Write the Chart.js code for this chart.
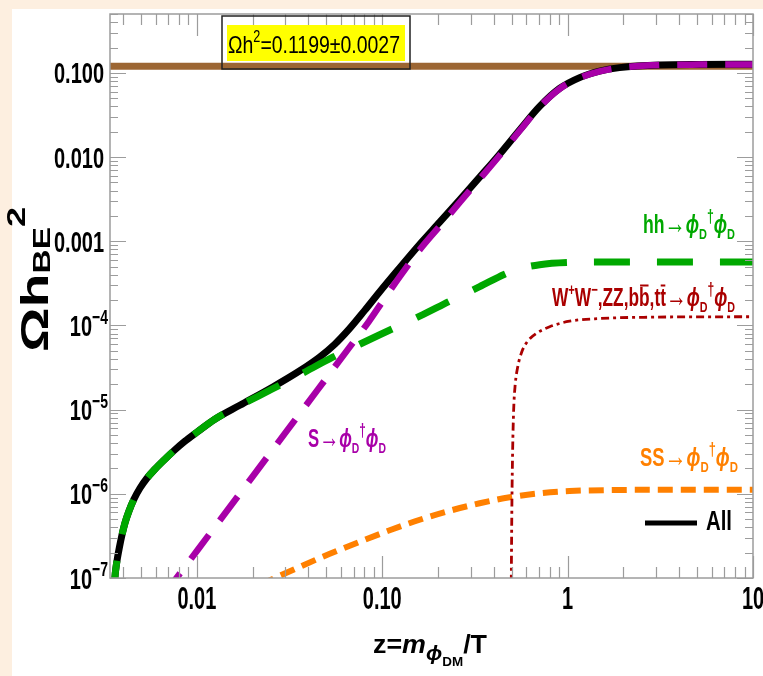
<!DOCTYPE html>
<html><head><meta charset="utf-8">
<script src="https://cdn.jsdelivr.net/npm/chart.js@4"></script>
<style>html,body{margin:0;padding:0;background:#fdefe0;}canvas{display:block}</style>
</head><body>
<canvas id="c" width="763" height="676"></canvas>
<script>
// ---------- data ----------
const xMin = 0.0034, xMax = 10, yMin = 1e-7, yMax = 0.5;
const relicValue = 0.1199;

const allZ = [0.00358, 0.003614, 0.003659, 0.003728, 0.003822, 0.003942, 0.004091, 0.0043, 0.004575, 0.004929, 0.005377, 0.005936, 0.006637, 0.007516, 0.008615, 0.01, 0.0125, 0.01705, 0.02569, 0.03592, 0.04602, 0.05546, 0.06679, 0.08045, 0.09694, 0.1243, 0.1593, 0.2041, 0.2617, 0.3354, 0.4299, 0.551, 0.7066, 0.9055, 1.161, 1.487, 1.906, 3.133, 5.148, 10];
const allY = [6e-8, 1.0e-7, 1.305e-7, 1.715e-7, 2.317e-7, 3.218e-7, 4.468e-7, 6.2e-7, 8.614e-7, 1.163e-6, 1.53e-6, 1.957e-6, 2.504e-6, 3.247e-6, 4.21e-6, 5.385e-6, 7.686e-6, 1.127e-5, 1.86e-5, 2.896e-5, 4.224e-5, 5.98e-5, 9.21e-5, 1.508e-4, 2.515e-4, 4.848e-4, 9.22e-4, 1.683e-3, 3.098e-3, 5.765e-3, 1.082e-2, 2.098e-2, 3.99e-2, 6.527e-2, 8.77e-2, 0.1047, 0.1153, 0.1242, 0.1258, 0.1262];

const hhZ = [0.00358, 0.003614, 0.003659, 0.003728, 0.003822, 0.003942, 0.004091, 0.0043, 0.004575, 0.004929, 0.005377, 0.005936, 0.006637, 0.007516, 0.008615, 0.01, 0.0125, 0.01705, 0.02569, 0.03592, 0.05409, 0.07561, 0.09694, 0.1593, 0.2312, 0.3354, 0.4575, 0.551, 0.7066, 1.025, 1.906, 10];
const hhY = [6e-8, 1.0e-7, 1.305e-7, 1.715e-7, 2.317e-7, 3.218e-7, 4.468e-7, 6.2e-7, 8.614e-7, 1.163e-6, 1.53e-6, 1.957e-6, 2.504e-6, 3.247e-6, 4.21e-6, 5.385e-6, 7.686e-6, 1.12e-5, 1.77e-5, 2.597e-5, 4.19e-5, 5.98e-5, 7.755e-5, 1.287e-4, 1.939e-4, 2.884e-4, 4.06e-4, 4.718e-4, 5.263e-4, 5.59e-4, 5.683e-4, 5.683e-4];

const sZ = [0.0065, 0.007772, 0.012, 0.02, 0.03, 0.045, 0.065, 0.085, 0.09694, 0.1243, 0.1593, 0.2041, 0.2617, 0.3354, 0.4299, 0.551, 0.7066, 0.9055, 1.161, 1.487, 1.906, 3.133, 5.148, 10];
const sY = [5.9e-8, 1.0e-7, 3.58e-7, 1.607e-6, 5.29e-6, 1.74e-5, 5.13e-5, 1.128e-4, 1.72e-4, 3.8e-4, 7.93e-4, 1.51e-3, 2.89e-3, 5.48e-3, 1.044e-2, 2.05e-2, 3.94e-2, 6.47e-2, 8.71e-2, 0.1041, 0.1147, 0.1236, 0.1253, 0.1257];

const vvZ = [0.4952, 0.4977, 0.5008, 0.5052, 0.5115, 0.5211, 0.5377, 0.565, 0.6086, 0.6806, 0.7999, 1.025, 1.487, 2.767, 10];
const vvY = [3.1e-8, 1.62e-7, 8.38e-7, 3.29e-6, 9.83e-6, 1.948e-5, 3.188e-5, 4.804e-5, 6.494e-5, 8.08e-5, 9.65e-5, 1.122e-4, 1.208e-4, 1.252e-4, 1.269e-4];

const ssZ = [0.02185, 0.02634, 0.03592, 0.05212, 0.07561, 0.1097, 0.1593, 0.2312, 0.3354, 0.4869, 0.7066, 1.025, 1.684, 4.017, 10];
const ssY = [8.3e-8, 1.0e-7, 1.359e-7, 1.94e-7, 2.694e-7, 3.688e-7, 4.916e-7, 6.288e-7, 7.72e-7, 9.1e-7, 1.015e-6, 1.078e-6, 1.108e-6, 1.117e-6, 1.117e-6];

const xTickVals = [0.01, 0.1, 1, 10];
const xTickText = ['0.01', '0.10', '1', '10'];
const yTickVals = [0.1, 0.01, 0.001, 1e-4, 1e-5, 1e-6, 1e-7];
const yTickMain = ['0.100', '0.010', '0.001', '10', '10', '10', '10'];
const yTickExp  = ['', '', '', '\u22124', '\u22125', '\u22126', '\u22127'];

// ---------- helpers ----------
const pts = (xs, ys) => xs.map((x, i) => ({x, y: ys[i]}));
const FAM = '"Liberation Sans", Arial, "DejaVu Sans", sans-serif';

function drawRich(ctx, parts, o) {
  ctx.save();
  ctx.translate(o.x, o.y);
  if (o.rotate) ctx.rotate(o.rotate);
  const fontFor = p => `${p.italic ? 'italic ' : ''}${o.weight || 'bold'} ${o.size * (p.scale || 1)}px ${FAM}`;
  let w = 0;
  parts.forEach(p => { ctx.font = fontFor(p); p._w = ctx.measureText(p.t).width; w += p._w; });
  const sx = o.width ? o.width / w : (o.sx || 1);
  ctx.scale(sx, o.sy || 1);
  let cx = o.align === 'center' ? -w / 2 : (o.align === 'right' ? -w : 0);
  ctx.fillStyle = o.color || '#000';
  ctx.textBaseline = 'alphabetic';
  parts.forEach(p => {
    ctx.font = fontFor(p);
    const dy = (p.dy || 0) * o.size;
    ctx.fillText(p.t, cx, dy);
    if (p.bar) {
      ctx.fillRect(cx + p._w * 0.1, dy - o.size * 0.86, p._w * 0.8, o.size * 0.08);
    }
    cx += p._w;
  });
  ctx.restore();
}

const PHI = '\u03D5';
const ARROW = {t: '\u2192', scale: 1.2};
const phiD = [{t: PHI, italic: true}, {t: 'D', scale: 0.62, dy: 0.22}, {t: '\u2020', scale: 0.7, dy: -0.45}, {t: PHI, italic: true}, {t: 'D', scale: 0.62, dy: 0.22}];

const decor = {
  id: 'decor',
  beforeDraw(chart) {
    const ctx = chart.ctx;
    ctx.save();
    ctx.fillStyle = '#fdefe0';
    ctx.fillRect(0, 0, chart.width, chart.height);
    ctx.fillStyle = '#ffffff';
    ctx.fillRect(12, 9, chart.width - 12, chart.height - 9);
    ctx.restore();
  },
  afterDatasetsDraw(chart) {
    const ctx = chart.ctx, a = chart.chartArea;
    const xs = chart.scales.x, ys = chart.scales.y;
    ctx.save();
    // frame
    ctx.strokeStyle = '#9c9c9c';
    ctx.lineWidth = 1.5;
    ctx.strokeRect(a.left, a.top, a.right - a.left, a.bottom - a.top);
    // ticks (inward, on all four sides)
    ctx.lineWidth = 1.2;
    ctx.beginPath();
    for (let k = Math.floor(Math.log10(xMin)); k <= Math.ceil(Math.log10(xMax)); k++) {
      for (let m = 1; m <= 9; m++) {
        const v = m * Math.pow(10, k);
        if (v < xMin * 0.999 || v > xMax * 1.001) continue;
        const px = Math.round(xs.getPixelForValue(v)) + 0.5;
        const len = m === 1 ? 22 : 11;
        ctx.moveTo(px, a.bottom); ctx.lineTo(px, a.bottom - len);
        ctx.moveTo(px, a.top); ctx.lineTo(px, a.top + len);
      }
    }
    for (let k = Math.floor(Math.log10(yMin)); k <= Math.ceil(Math.log10(yMax)); k++) {
      for (let m = 1; m <= 9; m++) {
        const v = m * Math.pow(10, k);
        if (v < yMin * 0.999 || v > yMax * 1.001) continue;
        const py = Math.round(ys.getPixelForValue(v)) + 0.5;
        const len = m === 1 ? 16 : 8;
        ctx.moveTo(a.left, py); ctx.lineTo(a.left + len, py);
        ctx.moveTo(a.right, py); ctx.lineTo(a.right - len, py);
      }
    }
    ctx.stroke();

    // tick labels
    const TS = 25, TSX = 0.8, TSY = 1.18, cap = 0.716 * TS * TSY;
    xTickVals.forEach((v, i) => {
      drawRich(ctx, [{t: xTickText[i]}], {x: xs.getPixelForValue(v), y: 588 + cap, size: TS, sx: TSX, sy: 1.22, align: 'center'});
    });
    yTickVals.forEach((v, i) => {
      const py = ys.getPixelForValue(v);
      if (yTickExp[i]) {
        drawRich(ctx, [{t: yTickMain[i]}, {t: yTickExp[i], scale: 0.7, dy: -0.42}], {x: 108, y: py + cap / 2, size: TS, sx: TSX, sy: TSY, align: 'right'});
      } else {
        drawRich(ctx, [{t: yTickMain[i]}], {x: 104, y: py + cap / 2, size: TS, sx: TSX, sy: TSY, align: 'right'});
      }
    });

    // axis titles
    drawRich(ctx, [{t: 'z='}, {t: 'm', italic: true}, {t: PHI, italic: true, scale: 0.8, dy: 0.28}, {t: 'DM', scale: 0.5, dy: 0.5}, {t: '/T'}],
      {x: 373, y: 653, size: 22, width: 114, sy: 1.16});
    drawRich(ctx, [{t: '\u03A9h'}, {t: 'BE', scale: 0.6, dy: 0.05}, {t: '2', scale: 0.65, dy: -0.6}],
      {x: 48, y: 352, size: 34, width: 145, sy: 1.15, rotate: -Math.PI / 2});

    // relic density box
    ctx.fillStyle = '#ffff00';
    ctx.fillRect(227, 25, 178, 36);
    ctx.strokeStyle = '#222';
    ctx.lineWidth = 1.5;
    ctx.strokeRect(222, 16, 188, 53);
    drawRich(ctx, [{t: '\u03A9h'}, {t: '2', scale: 0.65, dy: -0.45}, {t: '=0.1199\u00B10.0027'}],
      {x: 228, y: 53, size: 22, width: 172, sy: 1.12, weight: 'normal'});

    // curve labels
    drawRich(ctx, [{t: 'hh'}, ARROW].concat(phiD), {x: 643, y: 233, size: 20, width: 92, sy: 1.25, color: '#00a800'});
    drawRich(ctx, [{t: 'W'}, {t: '+', scale: 0.65, dy: -0.45}, {t: 'W'}, {t: '\u2212', scale: 0.65, dy: -0.45}, {t: ',ZZ,b'}, {t: 'b', bar: true}, {t: ',t'}, {t: 't', bar: true}, ARROW].concat(phiD),
      {x: 552, y: 306, size: 20, width: 183, sy: 1.25, color: '#aa0000'});
    drawRich(ctx, [{t: 'S'}, ARROW].concat(phiD), {x: 308, y: 447, size: 20, width: 78, sy: 1.25, color: '#a800a8'});
    drawRich(ctx, [{t: 'SS'}, ARROW].concat(phiD), {x: 640, y: 466, size: 20, width: 98, sy: 1.25, color: '#ff8000'});

    // legend "All"
    ctx.strokeStyle = '#000';
    ctx.lineWidth = 5;
    ctx.beginPath(); ctx.moveTo(645, 523); ctx.lineTo(697, 523); ctx.stroke();
    drawRich(ctx, [{t: 'All'}], {x: 706, y: 530, size: 24, width: 26, sy: 1.15});
    ctx.restore();
  }
};

const common = {showLine: true, pointRadius: 0, fill: false, cubicInterpolationMode: 'monotone', clip: 0};

new Chart(document.getElementById('c'), {
  type: 'scatter',
  data: {
    datasets: [
      Object.assign({label: 'S', data: pts(sZ, sY), borderColor: '#a800a8', borderWidth: 6.5, borderDash: [30, 18], order: 1}, common),
      Object.assign({label: 'hh', data: pts(hhZ, hhY), borderColor: '#00a800', borderWidth: 7, borderDash: [36, 27], order: 2}, common),
      Object.assign({label: 'WW', data: pts(vvZ, vvY), borderColor: '#aa0000', borderWidth: 2.8, borderDash: [8, 4, 3, 4], order: 3}, common),
      Object.assign({label: 'SS', data: pts(ssZ, ssY), borderColor: '#ff8000', borderWidth: 6, borderDash: [15, 8], order: 4}, common),
      Object.assign({label: 'All', data: pts(allZ, allY), borderColor: '#000000', borderWidth: 7, order: 5}, common),
      Object.assign({label: 'relic', data: [{x: xMin, y: relicValue}, {x: xMax, y: relicValue}], borderColor: '#9c6633', borderWidth: 7, order: 6}, common)
    ]
  },
  options: {
    responsive: false,
    devicePixelRatio: 1,
    animation: false,
    layout: {padding: {left: 110, top: 14, right: 10, bottom: 98}},
    plugins: {legend: {display: false}, tooltip: {enabled: false}},
    scales: {
      x: {type: 'logarithmic', min: xMin, max: xMax, display: false},
      y: {type: 'logarithmic', min: yMin, max: yMax, display: false}
    }
  },
  plugins: [decor]
});
</script>
</body></html>
